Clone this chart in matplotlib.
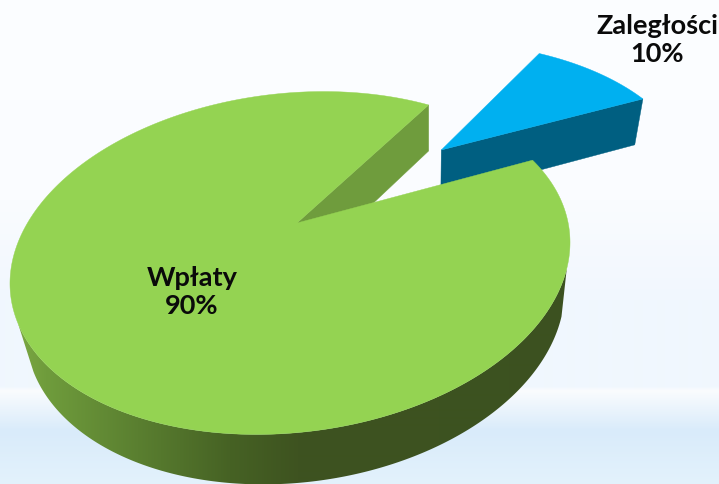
import numpy as np
import matplotlib
matplotlib.use("Agg")
import matplotlib.pyplot as plt
from matplotlib.patches import Polygon

# dane
names = ["Wpłaty", "Zaległości"]
shares = [90, 10]

# kolory
green_top = "#94d352"
green_cut = "#6f9c3d"
blue_top = "#00b0f0"
blue_cut = "#005f81"

# geometria rzutu (piksele)
cx, cy = 290, 263
ax_a, ax_b = 281.2, 169.5
tilt = np.radians(6.6)
apex = (297, 223)
blue_start = 24.4
explode = 0.735

plt.rcParams["font.family"] = ["Lato", "DejaVu Sans"]

# punkt srodka tortu w ukladzie znormalizowanej elipsy
dx, dy = apex[0] - cx, cy - apex[1]
p0 = np.array([(dx * np.cos(tilt) + dy * np.sin(tilt)) / ax_a,
               (-dx * np.sin(tilt) + dy * np.cos(tilt)) / ax_b])
r = np.hypot(*p0)
e = p0 / r
n = np.array([e[1], -e[0]])


def to_screen(X, Y):
    # kolo jednostkowe -> ekran, z perspektywa
    d = 1 + r * Y
    xp = X * np.sqrt(1 - r ** 2) / d
    yp = (Y + r) / d
    ux = xp * n[0] + yp * e[0]
    uy = xp * n[1] + yp * e[1]
    px, py = ax_a * ux, ax_b * uy
    return (cx + px * np.cos(tilt) - py * np.sin(tilt),
            cy - (px * np.sin(tilt) + py * np.cos(tilt)))


def lower(x, y):
    # dolna krawedz bryly
    return 428 + 0.962 * (x - 428), y + 46 + 0.012 * (y - 107)


def arc(a0, a1, shift=(0, 0)):
    t = np.radians(np.linspace(a0, a1, int(abs(a1 - a0)) * 2 + 2))
    return to_screen(np.cos(t) + shift[0], np.sin(t) + shift[1])


fig, ax = plt.subplots(figsize=(7.19, 4.84), dpi=100)
fig.subplots_adjust(0, 0, 1, 1)

# tlo
bg_y = [0, 200, 300, 386, 390, 430, 484]
bg_r = [252, 250, 241, 240, 250, 217, 227]
bg_g = [254, 252, 247, 247, 252, 235, 242]
bg_b = [255, 255, 254, 254, 254, 250, 252]
rows = np.arange(484)
bg = np.stack([np.interp(rows, bg_y, bg_r), np.interp(rows, bg_y, bg_g),
               np.interp(rows, bg_y, bg_b)], axis=1)[:, None, :] / 255
ax.imshow(bg, extent=(0, 719, 484, 0), aspect="auto", interpolation="bilinear")

blue_angle = shares[1] / sum(shares) * 360
blue_end = blue_start + blue_angle
mid = np.radians(blue_start + blue_angle / 2)
shift = (explode * np.cos(mid), explode * np.sin(mid))

# wycinek niebieski
bx, by = arc(blue_start, blue_end, shift)
tip = to_screen(np.array(shift[0]), np.array(shift[1]))
lx, ly = lower(np.array([tip[0], bx[0]]), np.array([tip[1], by[0]]))
ax.fill([tip[0], bx[0], lx[1], lx[0]], [tip[1], by[0], ly[1], ly[0]], color=blue_cut, lw=0.3)
ax.fill(np.r_[tip[0], bx], np.r_[tip[1], by], color=blue_top, lw=0.3)

# bok zielonego wycinka z gradientem
gx, gy = arc(blue_end, blue_start + 360)
fx, fy = arc(212, 344)
lfx, lfy = lower(fx, fy)
grad_x = [20, 46, 138, 230, 298, 719]
grad_r = [122, 111, 90, 70, 62, 59]
grad_g = [166, 156, 127, 98, 83, 81]
grad_b = [66, 60, 48, 36, 32, 32]
cols_x = np.arange(719)
grad = np.stack([np.interp(cols_x, grad_x, grad_r), np.interp(cols_x, grad_x, grad_g),
                 np.interp(cols_x, grad_x, grad_b)], axis=1)[None, :, :] / 255
side = ax.imshow(grad, extent=(0, 719, 484, 0), aspect="auto", interpolation="bilinear")
side_poly = Polygon(np.c_[np.r_[fx, lfx[::-1]], np.r_[fy, lfy[::-1]]], closed=True,
                    transform=ax.transData, fc="none", ec="none")
ax.add_patch(side_poly)
side.set_clip_path(side_poly)

# sciana przekroju w wycieciu
cut_x, cut_y = lower(np.array([apex[0], gx[0]]), np.array([apex[1], gy[0]]))
ax.fill([apex[0], gx[0], cut_x[1], cut_x[0]], [apex[1], gy[0], cut_y[1], cut_y[0]], color=green_cut, lw=0.3)

# gora zielonego wycinka
ax.fill(np.r_[apex[0], gx], np.r_[apex[1], gy], color=green_top, lw=0.3)

# etykiety
label_pos = [(192, 292), (657, 40)]
for name, share, (tx, ty) in zip(names, shares, label_pos):
    ax.text(tx, ty, f"{name}\n{share}%", ha="center", va="center", fontsize=19.5,
            fontweight="bold", color="#0a0a0a", linespacing=1.2)

ax.set_xlim(0, 719)
ax.set_ylim(484, 0)
ax.axis("off")
fig.savefig("out.png", dpi=100)
